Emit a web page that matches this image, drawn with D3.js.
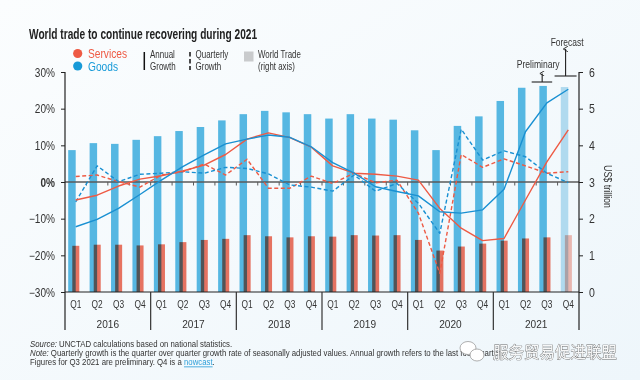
<!DOCTYPE html>
<html><head><meta charset="utf-8">
<script src="https://cdn.jsdelivr.net/npm/d3@7"></script>
<style>
html,body{margin:0;padding:0;background:#f4f8fb;}
svg{display:block;}
</style></head>
<body>
<svg id="c" width="640" height="380"></svg>
<script>
const years = ["2016","2017","2018","2019","2020","2021"];
const quarters = ["Q1","Q2","Q3","Q4"];
const leftTicks = [-30,-20,-10,0,10,20,30];
const rightTicks = [0,1,2,3,4,5,6];
// World trade, US$ trillion (right axis)
const goodsTrade = [3.87,4.06,4.04,4.15, 4.25,4.39,4.50,4.68, 4.85,4.94,4.90,4.85, 4.73,4.85,4.73,4.70, 4.41,3.87,4.53,4.79, 5.21,5.57,5.62,5.59];
const servicesTrade = [1.26,1.29,1.29,1.27, 1.30,1.36,1.42,1.45, 1.55,1.52,1.49,1.52, 1.51,1.55,1.54,1.55, 1.42,1.13,1.24,1.32, 1.40,1.46,1.49,1.55];
// Growth rates, % (left axis)
const goodsAnnual = [-12.2,-10.2,-7.2,-3.4, 0.5,4.2,7.4,10.4, 11.7,12.8,12.2,9.6, 5.3,2.4,-1.3,-2.6, -3.8,-8.1,-8.5,-7.6, -2.0,13.7,21.6,25.3];
const servicesAnnual = [-4.9,-3.6,-1.1,0.8, 1.7,3.0,4.6,7.5, 11.7,13.4,12.1,9.5, 4.4,2.4,2.1,1.6, 0.5,-7.2,-12.6,-16.0, -15.4,-4.9,5.5,14.2];
const goodsQuarterly = [-5.4,4.4,0.1,2.1, 2.4,2.8,2.4,4.0, 3.7,2.2,-0.8,-1.4, -2.5,1.9,-2.5,-0.4, -5.8,-14.0,14.4,6.0, 8.5,6.9,2.4,-0.2];
const servicesQuarterly = [1.5,1.9,0.1,-1.4, 1.9,2.8,4.9,1.9, 6.2,-1.7,-1.7,1.6, -0.4,2.4,-0.2,0.5, -8.5,-24.9,7.5,4.0, 6.3,4.4,2.4,2.8];
const forecastIndex = 23, prelimIndex = 22;

const FONT = "'Liberation Sans',Arial,sans-serif";
const BLUE_BAR = "#56b7e2", RED_BAR = "#f07562";
const BLUE_BAR_L = "#b0daef", RED_BAR_L = "#f6bcb2";
const BLUE_LINE = "#1990d2", RED_LINE = "#ee5a44";
const TXT = "#333";

// condense text horizontally (the original uses a condensed typeface)
function squeeze(sel, sx){
  sel.each(function(){
    const t = d3.select(this);
    const x0 = +t.attr("x") || 0, y0 = +t.attr("y") || 0;
    t.attr("x",0).attr("y",0).attr("transform",`translate(${x0},${y0}) scale(${sx},1)`);
  });
  return sel;
}
// a line of text made of separately styled runs
function runs(g, x0, y0, parts, fs, sx){
  let cur = x0;
  const sp = fs * 0.278 * sx;
  parts.forEach((p, k) => {
    const t = g.append("text").attr("font-size", fs)
      .attr("transform", `translate(${cur},${y0}) scale(${sx},1)`).text(p.t);
    if (p.italic) t.attr("font-style","italic");
    if (p.fill) t.attr("fill", p.fill);
    if (p.underline) t.attr("text-decoration","underline");
    cur += t.node().getComputedTextLength() * sx + (p.gap === 0 ? 0 : sp);
  });
}

const svg = d3.select("#c").style("font-family", FONT);
const defs = svg.append("defs");
const bg = defs.append("linearGradient").attr("id","bg").attr("x1",0).attr("y1",0).attr("x2",1).attr("y2",1);
bg.append("stop").attr("offset","0%").attr("stop-color","#fbfdfe");
bg.append("stop").attr("offset","100%").attr("stop-color","#eef6fb");
svg.append("rect").attr("width",640).attr("height",380).attr("fill","url(#bg)");
defs.append("marker").attr("id","arr").attr("viewBox","0 0 6 6").attr("refX",3).attr("refY",3)
  .attr("markerWidth",5).attr("markerHeight",5).attr("orient","auto")
  .append("path").attr("d","M0,5.5 L3,0.5 L6,5.5").attr("fill","none").attr("stroke","#222").attr("stroke-width",1);

const L = 65, R = 579, T = 72, B = 292;
const idx = d3.range(years.length * quarters.length);
const x = d3.scaleBand().domain(idx).range([L, R]).padding(0);
const bw = x.bandwidth();
const yL = d3.scaleLinear().domain([-30,30]).range([B,T]);
const yR = d3.scaleLinear().domain([0,6]).range([B,T]);

// Title
squeeze(svg.append("text").attr("x",29).attr("y",39).attr("font-size",14).attr("font-weight","bold")
  .attr("fill","#222").text("World trade to continue recovering during 2021"), 0.725);

// Legend
const lg = svg.append("g").attr("font-size",10).attr("fill",TXT);
lg.append("circle").attr("cx",77.7).attr("cy",53.5).attr("r",4.6).attr("fill",RED_LINE);
lg.append("circle").attr("cx",77.7).attr("cy",66).attr("r",4.6).attr("fill","#179ad8");
squeeze(lg.append("text").attr("x",88).attr("y",58).attr("font-size",12).attr("fill",RED_LINE).text("Services"), 0.85);
squeeze(lg.append("text").attr("x",88).attr("y",71).attr("font-size",12).attr("fill","#179ad8").text("Goods"), 0.85);
lg.append("line").attr("x1",144.3).attr("x2",144.3).attr("y1",52).attr("y2",70).attr("stroke","#111").attr("stroke-width",1.5);
squeeze(lg.append("text").attr("x",150).attr("y",57.5).text("Annual"), 0.8);
squeeze(lg.append("text").attr("x",150).attr("y",70).text("Growth"), 0.8);
lg.append("line").attr("x1",190).attr("x2",190).attr("y1",52).attr("y2",70).attr("stroke","#111").attr("stroke-width",1.5).attr("stroke-dasharray","4.5,2.5");
squeeze(lg.append("text").attr("x",195.5).attr("y",57.5).text("Quarterly"), 0.8);
squeeze(lg.append("text").attr("x",195.5).attr("y",70).text("Growth"), 0.8);
lg.append("rect").attr("x",244).attr("y",51.5).attr("width",9.5).attr("height",10).attr("fill","#c9cbcd");
squeeze(lg.append("text").attr("x",258).attr("y",57.5).text("World Trade"), 0.79);
squeeze(lg.append("text").attr("x",258).attr("y",70).text("(right axis)"), 0.79);

// Bars
const bars = svg.append("g");
bars.selectAll("rect.g").data(goodsTrade).join("rect").attr("class","g")
  .attr("x",(d,i)=>x(i)+3.2).attr("width",7.5)
  .attr("y",d=>yR(d)).attr("height",d=>yR(0)-yR(d))
  .attr("fill",(d,i)=>i===forecastIndex?BLUE_BAR_L:BLUE_BAR);
bars.selectAll("rect.s").data(servicesTrade).join("rect").attr("class","s")
  .attr("x",(d,i)=>x(i)+7.3).attr("width",7)
  .attr("y",d=>yR(d)).attr("height",d=>yR(0)-yR(d))
  .attr("fill",(d,i)=>i===forecastIndex?RED_BAR_L:RED_BAR)
  .style("mix-blend-mode","multiply");

// Zero line with quarter ticks
svg.append("line").attr("x1",L).attr("x2",R).attr("y1",yL(0)).attr("y2",yL(0)).attr("stroke","#5a5a5a").attr("stroke-width",1.3);
svg.append("g").selectAll("line").data(idx.slice(1)).join("line")
  .attr("x1",i=>x(i)).attr("x2",i=>x(i)).attr("y1",yL(0)).attr("y2",yL(0)+3.5)
  .attr("stroke","#5a5a5a").attr("stroke-width",1);

// Lines
const cx = i => x(i) + bw/2;
const line = d3.line().x((d,i)=>cx(i)).y(d=>yL(d));
const series = [
  [servicesQuarterly, RED_LINE, "4,2.5"],
  [goodsQuarterly, BLUE_LINE, "4,2.5"],
  [servicesAnnual, RED_LINE, null],
  [goodsAnnual, BLUE_LINE, null]
];
series.forEach(([data,col,dash])=>{
  svg.append("path").datum(data).attr("d",line).attr("fill","none")
    .attr("stroke",col).attr("stroke-width",1.4).attr("stroke-linejoin","round")
    .attr("stroke-dasharray",dash);
});

// Left axis
const la = svg.append("g").attr("transform",`translate(${L},0)`)
  .call(d3.axisLeft(yL).tickValues(leftTicks).tickSize(4).tickPadding(6).tickFormat(d=>d3.format("d")(d)+"%"));
la.select(".domain").remove();
la.selectAll("line").attr("stroke","#222");
la.selectAll("text").attr("font-family",FONT).attr("font-size",12).attr("fill",TXT).attr("dy",null).attr("y",4.3)
  .attr("font-weight",d=>d===0?"bold":"normal");
squeeze(la.selectAll("text"), 0.84);
svg.append("line").attr("x1",L).attr("x2",L).attr("y1",T).attr("y2",330).attr("stroke","#222").attr("stroke-width",1.2);

// Right axis
const ra = svg.append("g").attr("transform",`translate(${R},0)`)
  .call(d3.axisRight(yR).tickValues(rightTicks).tickSize(4).tickPadding(6).tickFormat(d3.format("d")));
ra.select(".domain").remove();
ra.selectAll("line").attr("stroke","#222");
ra.selectAll("text").attr("font-family",FONT).attr("font-size",12).attr("fill",TXT).attr("dy",null).attr("y",4.3);
squeeze(ra.selectAll("text"), 0.88);
svg.append("line").attr("x1",R).attr("x2",R).attr("y1",T).attr("y2",330).attr("stroke","#222").attr("stroke-width",1.2);
svg.append("text").attr("transform","translate(604,186.5) rotate(90) scale(0.81,1)").attr("text-anchor","middle")
  .attr("font-size",11).attr("fill",TXT).text("US$ trillion");

// Bottom axis
svg.append("line").attr("x1",L).attr("x2",R).attr("y1",B).attr("y2",B).attr("stroke","#222").attr("stroke-width",1.2);
squeeze(svg.append("g").selectAll("text").data(idx).join("text")
  .attr("x",i=>cx(i)).attr("y",308).attr("text-anchor","middle").attr("font-size",11).attr("fill",TXT)
  .text(i=>quarters[i % quarters.length]), 0.76);
squeeze(svg.append("g").selectAll("text").data(years).join("text")
  .attr("x",(d,k)=>(x(k*4)+x(k*4+3)+bw)/2).attr("y",328).attr("text-anchor","middle").attr("font-size",11.5).attr("fill",TXT)
  .text(d=>d), 0.88);
svg.append("g").selectAll("line").data(d3.range(1,years.length)).join("line")
  .attr("x1",k=>x(k*4)).attr("x2",k=>x(k*4)).attr("y1",B).attr("y2",330)
  .attr("stroke","#333").attr("stroke-width",1.2);

// Annotations
const pX = x(prelimIndex)+6, fX = x(forecastIndex)+8;
const an = svg.append("g").attr("stroke","#222").attr("stroke-width",1.1).attr("fill","none");
an.append("line").attr("x1",pX-10.5).attr("x2",pX+10).attr("y1",82).attr("y2",82);
an.append("line").attr("x1",pX).attr("x2",pX).attr("y1",82).attr("y2",73.5).attr("marker-end","url(#arr)");
an.append("line").attr("x1",fX-11).attr("x2",fX+11).attr("y1",76).attr("y2",76);
an.append("line").attr("x1",fX).attr("x2",fX).attr("y1",76).attr("y2",49).attr("marker-end","url(#arr)");
squeeze(svg.append("text").attr("x",pX-4).attr("y",67.5).attr("text-anchor","middle").attr("font-size",11).attr("fill",TXT).text("Preliminary"), 0.78);
squeeze(svg.append("text").attr("x",fX+1.5).attr("y",46).attr("text-anchor","middle").attr("font-size",11).attr("fill",TXT).text("Forecast"), 0.77);

// Footnotes
const fn = svg.append("g").attr("fill",TXT);
runs(fn, 30, 346.6, [{t:"Source:", italic:true}, {t:"UNCTAD calculations based on national statistics."}], 8.4, 0.93);
runs(fn, 30, 356.0, [{t:"Note:", italic:true}, {t:"Quarterly growth is the quarter over quarter growth rate of seasonally adjusted values. Annual growth refers to the last four quarters."}], 8.4, 0.93);
runs(fn, 30, 365.4, [{t:"Figures for Q3 2021 are preliminary. Q4 is a"}, {t:"nowcast", fill:"#2e9fd9", underline:true, gap:0}, {t:"."}], 8.4, 0.93);

// Watermark
const wm = svg.append("g");
wm.append("ellipse").attr("cx",468).attr("cy",348).attr("rx",8).attr("ry",6.5).attr("fill","#fff").attr("stroke","#9a9a9a").attr("stroke-width",0.8);
wm.append("ellipse").attr("cx",477).attr("cy",355).attr("rx",7).attr("ry",6).attr("fill","#fff").attr("stroke","#9a9a9a").attr("stroke-width",0.8);
wm.append("text").attr("x",493).attr("y",357.5).attr("font-family","'Noto Sans CJK SC',sans-serif")
  .attr("font-size",15.5).attr("fill","#f7f7f7").attr("stroke","#666").attr("stroke-width",0.7)
  .attr("paint-order","stroke").text("服务贸易促进联盟");
</script>
</body></html>
